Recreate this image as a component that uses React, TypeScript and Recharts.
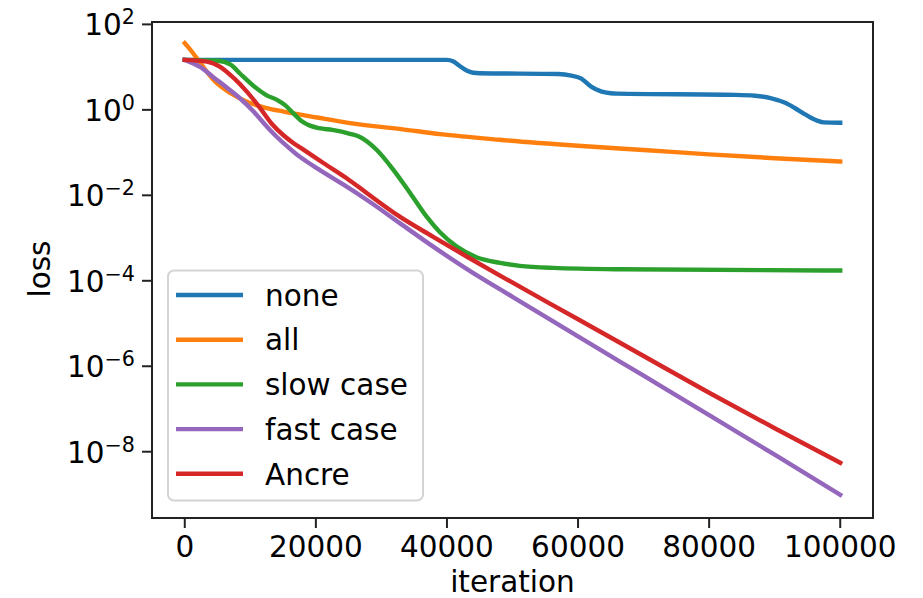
import { LineChart, Line, XAxis, YAxis, Legend, ReferenceArea } from 'recharts'

// [iteration, loss]
const noneLoss: [number, number][] = [
  [0, 14.8], [40000, 14.8], [41000, 13.5], [42000, 10.5], [43000, 8.3], [44000, 7.4],
  [45000, 7.2], [57000, 6.9], [59000, 6.3], [60500, 5.4], [62000, 3.5], [63500, 2.7],
  [65000, 2.45], [66000, 2.4], [84000, 2.24], [87000, 2.14], [89500, 1.86], [91500, 1.48],
  [93000, 1.12], [94800, 0.76], [96500, 0.56], [97500, 0.51], [100000, 0.5],
]

const allLoss: [number, number][] = [
  [0, 36.3], [900, 25.1], [2400, 12.3], [4400, 5.0], [7000, 2.45], [9500, 1.55],
  [12500, 1.1], [15100, 0.912], [20200, 0.661], [25200, 0.49], [33000, 0.355], [39000, 0.27],
  [48000, 0.2], [60000, 0.145], [70000, 0.115], [80000, 0.091], [90000, 0.074], [100000, 0.062],
]

const slowLoss: [number, number][] = [
  [0, 14.8], [5000, 14.1], [7000, 11.5], [8500, 6.9], [10500, 3.63], [12500, 2.19],
  [14000, 1.74], [15300, 1.29], [16500, 0.851], [17800, 0.55], [19100, 0.427], [20500, 0.372],
  [22500, 0.339], [25200, 0.275], [26800, 0.229], [29300, 0.115], [31800, 0.04], [34400, 0.0112],
  [36900, 0.00316], [38900, 0.00138], [41500, 0.00063], [44500, 0.000355], [48100, 0.000263],
  [51100, 0.000224], [56200, 0.0002], [66400, 0.000186], [100000, 0.000174],
]

const fastLoss: [number, number][] = [
  [0, 14.8], [2400, 10.0], [4400, 5.75], [6500, 3.24], [8500, 1.82], [10500, 0.912],
  [12000, 0.501], [13000, 0.339], [14100, 0.229], [15500, 0.145], [16900, 0.0955],
  [18700, 0.0603], [20500, 0.0398], [24100, 0.0182], [27800, 0.00776], [32800, 0.00224],
  [37900, 0.00063], [43000, 0.00019], [50000, 4.2e-5], [60000, 5.0e-6], [70000, 6.0e-7],
  [80000, 7.2e-8], [90000, 8.5e-9], [100000, 9.8e-10],
]

const ancreLoss: [number, number][] = [
  [0, 14.8], [3400, 13.5], [5400, 10.2], [7500, 5.5], [9500, 2.63], [11500, 1.1],
  [13300, 0.468], [15100, 0.251], [16600, 0.166], [18100, 0.117], [21200, 0.0562],
  [24700, 0.0251], [27800, 0.0112], [32800, 0.00316], [37900, 0.00107], [43000, 0.00037],
  [48100, 0.000132], [60000, 1.26e-5], [70000, 1.74e-6], [80000, 2.4e-7], [90000, 3.55e-8],
  [100000, 5.5e-9],
]

const xTicks = [0, 20000, 40000, 60000, 80000, 100000]
const yTicks = [1e-8, 1e-6, 1e-4, 1e-2, 1, 100]

const series = [
  { name: 'none', color: '#1f77b4', points: noneLoss },
  { name: 'all', color: '#ff7f0e', points: allLoss },
  { name: 'slow case', color: '#2ca02c', points: slowLoss },
  { name: 'fast case', color: '#9467bd', points: fastLoss },
  { name: 'Ancre', color: '#d62728', points: ancreLoss },
]

const FONT = 'DejaVu Sans'
const FS = 29.5
const AXIS = '#222'
const X_DOMAIN: [number, number] = [-5000, 105000]
const Y_DOMAIN: [number, number] = [Math.pow(10, -9.551), Math.pow(10, 2.056)]

const toRows = (pts: [number, number][]) => pts.map(([iteration, loss]) => ({ iteration, loss }))

const XTick = ({ x, y, payload }: any) => (
  <text x={x} y={y} dy={29} textAnchor="middle" fontFamily={FONT} fontSize={FS} fill="#000">
    {payload.value}
  </text>
)

const YTick = ({ x, y, payload }: any) => {
  const e = Math.round(Math.log10(payload.value))
  const exp = e < 0 ? `\u2212${-e}` : `${e}`
  return (
    <text x={x - 7} y={y} dy={11} textAnchor="end" fontFamily={FONT} fontSize={FS} fill="#000">
      <tspan>10</tspan>
      <tspan dy={-11} fontSize={FS * 0.7}>{exp}</tspan>
    </text>
  )
}

const LegendBox = () => (
  <svg width={258} height={234} style={{ overflow: 'visible', display: 'block' }}>
    <rect x={1} y={1.5} width={255} height={230} rx={6} fill="#fff" fillOpacity={0.8} stroke="#d4d4d4" strokeWidth={2} />
    {series.map((s, i) => {
      const cy = 26 + i * 44.7
      return (
        <g key={s.name}>
          <line x1={9} x2={76} y1={cy} y2={cy} stroke={s.color} strokeWidth={4.4} />
          <text x={98} y={cy + 10.7} fontFamily={FONT} fontSize={FS} fill="#000">{s.name}</text>
        </g>
      )
    })}
  </svg>
)

export default function App() {
  return (
    <div style={{ position: 'absolute', left: 0, top: 0, width: 923, height: 598, background: '#fff' }}>
      <LineChart width={923} height={598} margin={{ top: 22, right: 50, bottom: 20, left: 0 }}>
        <XAxis
          dataKey="iteration"
          type="number"
          domain={X_DOMAIN}
          ticks={xTicks}
          allowDataOverflow
          height={60}
          tickSize={10}
          tickMargin={0}
          tick={<XTick />}
          axisLine={{ stroke: AXIS, strokeWidth: 2 }}
          tickLine={{ stroke: AXIS, strokeWidth: 2 }}
          label={{ value: 'iteration', content: () => (
            <text x={512.5} y={592} textAnchor="middle" fontFamily={FONT} fontSize={FS} fill="#000">iteration</text>
          ) }}
        />
        <YAxis
          scale="log"
          type="number"
          domain={Y_DOMAIN}
          ticks={yTicks}
          allowDataOverflow
          width={152}
          tickSize={10}
          tickMargin={0}
          tick={<YTick />}
          axisLine={{ stroke: AXIS, strokeWidth: 2 }}
          tickLine={{ stroke: AXIS, strokeWidth: 2 }}
          label={{ value: 'loss', content: () => (
            <text x={50} y={269} transform="rotate(-90, 50, 269)" textAnchor="middle" fontFamily={FONT} fontSize={FS} fill="#000">loss</text>
          ) }}
        />
        <ReferenceArea
          x1={X_DOMAIN[0]}
          x2={X_DOMAIN[1]}
          y1={Y_DOMAIN[0]}
          y2={Y_DOMAIN[1]}
          fill="none"
          fillOpacity={0}
          stroke={AXIS}
          strokeWidth={2}
          strokeOpacity={1}
          ifOverflow="visible"
        />
        {series.map(s => (
          <Line
            key={s.name}
            data={toRows(s.points)}
            dataKey="loss"
            name={s.name}
            type="monotone"
            stroke={s.color}
            strokeWidth={4.4}
            strokeLinecap="square"
            dot={false}
            activeDot={false}
            isAnimationActive={false}
          />
        ))}
        <Legend
          layout="vertical"
          align="center"
          verticalAlign="middle"
          content={() => <LegendBox />}
          wrapperStyle={{ left: 167, top: 269, width: 258, height: 234 }}
        />
      </LineChart>
    </div>
  )
}
